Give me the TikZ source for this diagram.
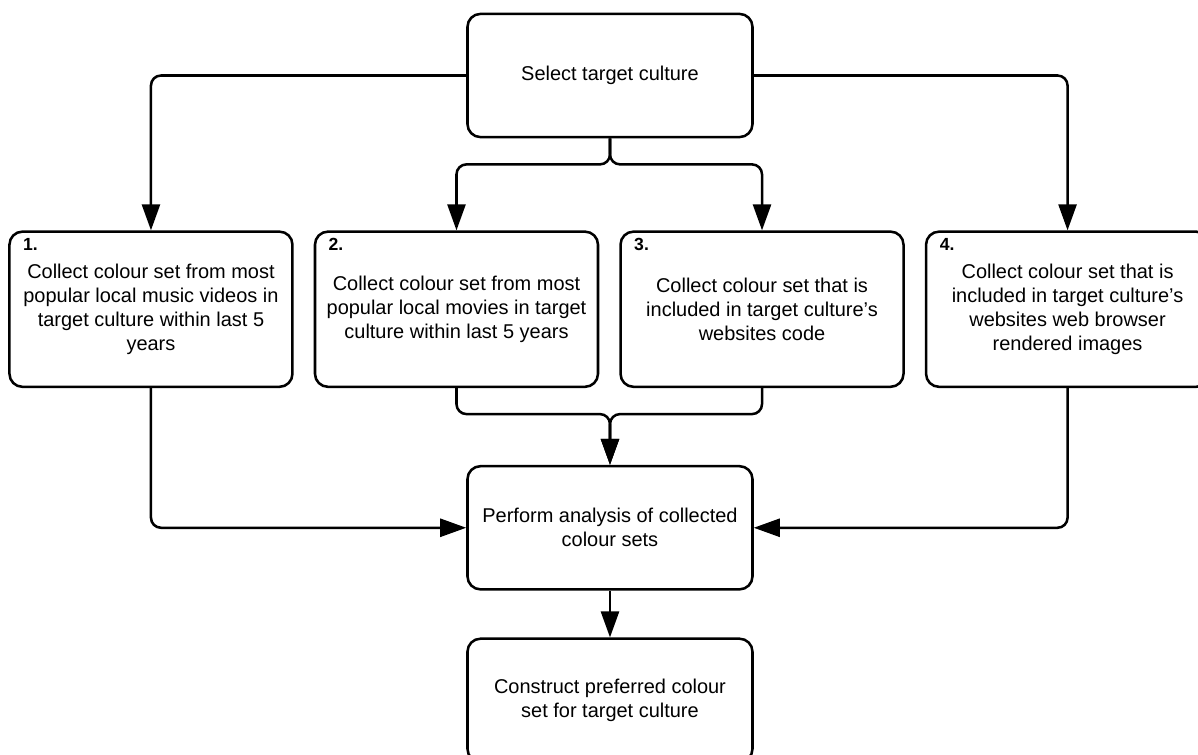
\documentclass[tikz,border=0pt]{standalone}
\usepackage{fontspec}
\setmainfont{Liberation Sans}
\usetikzlibrary{arrows.meta}
\usetikzlibrary{positioning}

\begin{document}
\begin{tikzpicture}
\useasboundingbox (-15.25,-16.9875) rectangle (14.7,1.8875);
\tikzset{roundbox/.style={rectangle,rounded corners=0.325cm,line width=1.8pt,align=center,minimum width=7.125cm,minimum height=3.08cm,font=\fontsize{14.2pt}{17pt}\selectfont}}
\tikzset{stepbox/.style={roundbox,minimum width=7.075cm,minimum height=3.88cm}}
\tikzset{stepno/.style={label={[anchor=north west,xshift=0.25cm,yshift=-0.08cm,font=\fontsize{12.5pt}{14pt}\selectfont\bfseries]north west:#1}}}
\tikzset{link/.style={line width=1.8pt,rounded corners=0.25cm,-{Triangle[length=0.65cm,width=0.45cm]}}}
\node[roundbox,draw](sel){Select target culture};
\node[stepbox,draw,stepno=2.](c2)[below=2.3cm of sel,xshift=-3.8375cm]{Collect colour set from most\\popular local movies in target\\culture within last 5 years};
\node[stepbox,draw,stepno=1.](c1)[left=0.5cm of c2]{Collect colour set from most\\popular local music videos in\\target culture within last 5\\years};
\node[stepbox,draw,stepno=3.](c3)[right=0.5cm of c2]{Collect colour set that is\\included in target culture’s\\websites code};
\node[stepbox,draw,stepno=4.](c4)[right=0.5cm of c3]{Collect colour set that is\\included in target culture’s\\websites web browser\\rendered images};
\path (sel.south |- c2.south) coordinate (row);
\node[roundbox,draw](ana)[below=1.92cm of row]{Perform analysis of collected\\colour sets};
\node[roundbox,draw](con)[below=1.17cm of ana]{Construct preferred colour\\set for target culture};
\coordinate (fork) at ([yshift=-0.65cm]sel.south);
\coordinate (join) at ([yshift=-0.65cm]row);
\draw[link](sel.west) -| (c1.north);
\draw[link](sel.east) -| (c4.north);
\draw[link](sel.south) -- (fork) -| (c2.north);
\draw[link](sel.south) -- (fork) -| (c3.north);
\draw[link](c2.south) |- (join) -- (ana.north);
\draw[link](c3.south) |- (join) -- (ana.north);
\draw[link](c1.south) |- (ana.west);
\draw[link](c4.south) |- (ana.east);
\draw[link](ana) -- (con);
\end{tikzpicture}
\end{document}
